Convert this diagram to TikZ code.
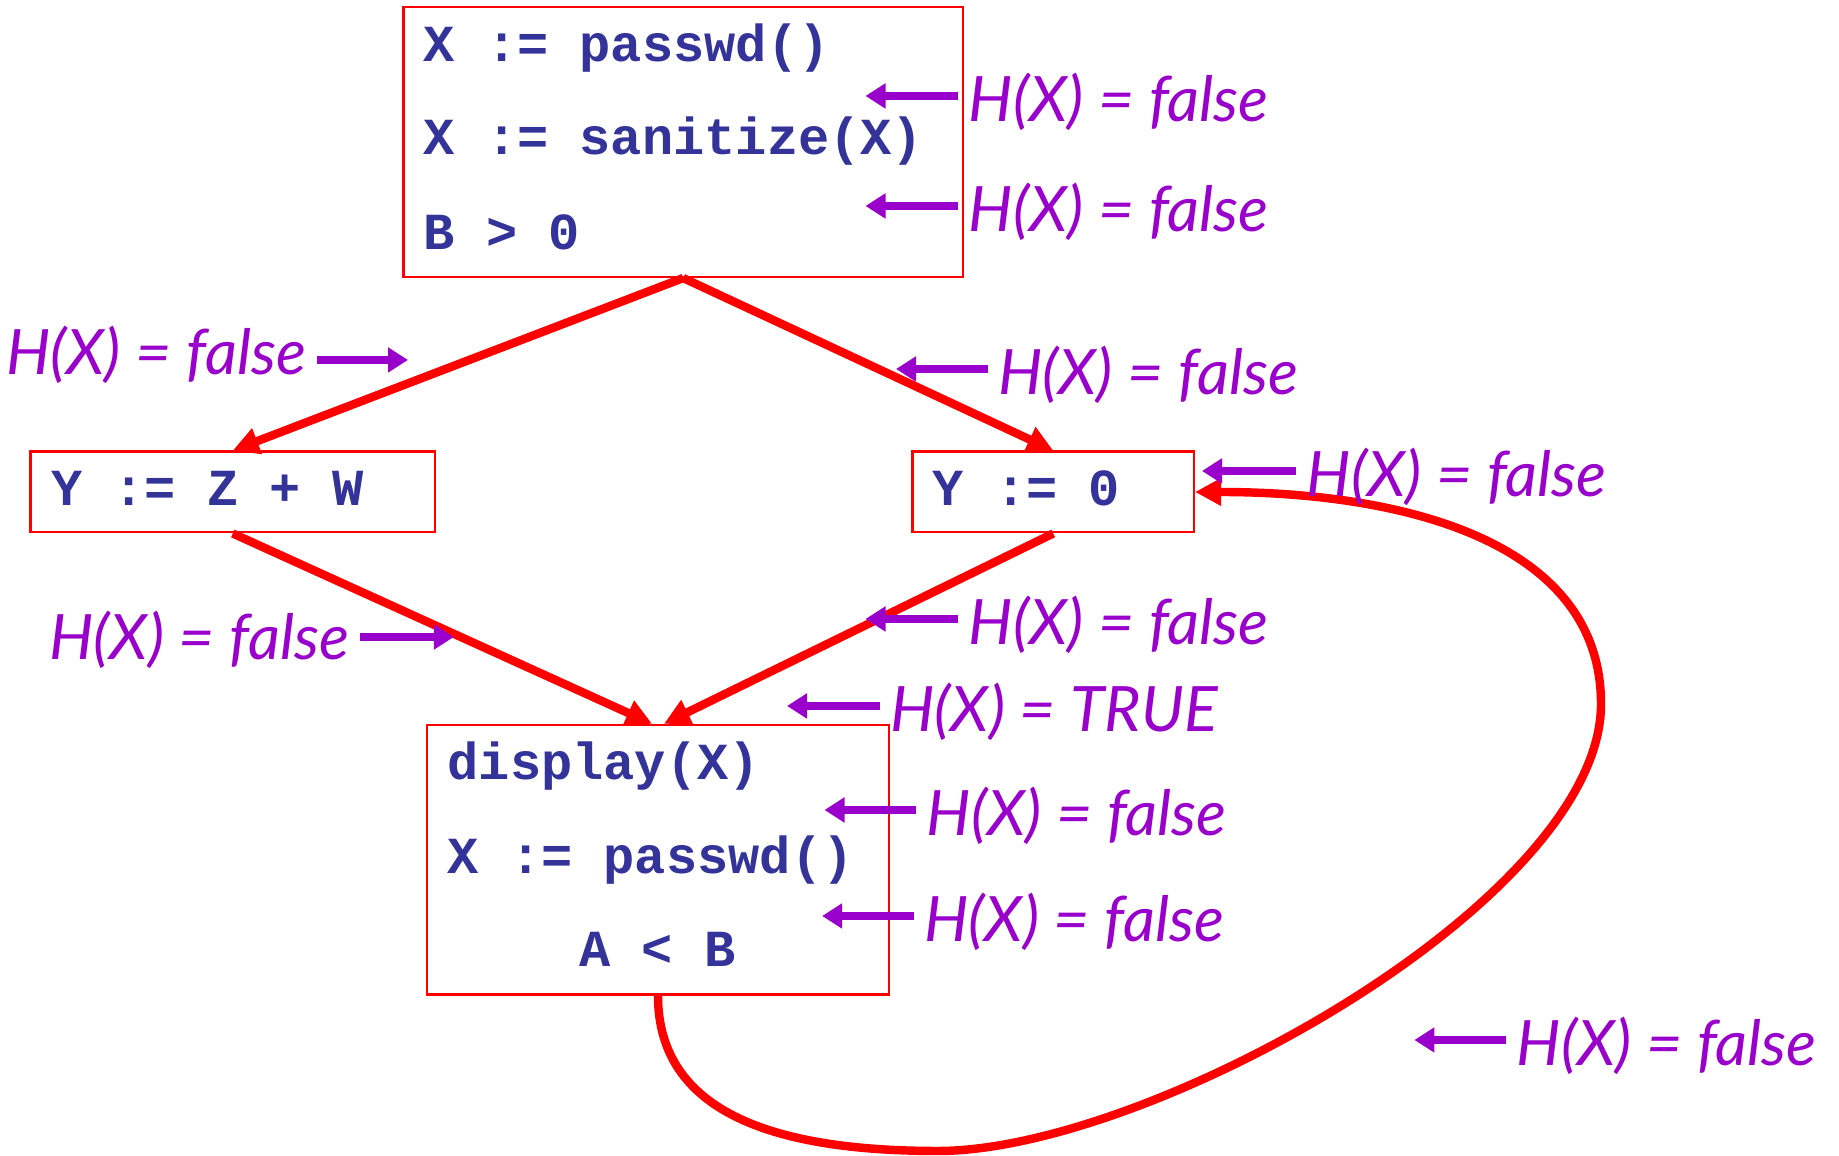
\documentclass[tikz,border=0pt]{standalone}
\usepackage{fontspec}
\setmonofont{Liberation Mono}
\newfontfamily\hfont{Lato}
\usetikzlibrary{arrows.meta}
\definecolor{codeblue}{HTML}{333399}
\definecolor{hpurple}{HTML}{9900CC}
\definecolor{edgered}{HTML}{FF0000}

\begin{document}
\begin{tikzpicture}[x=1cm,y=1cm,
    blk/.style={draw=edgered,line width=0.6pt,inner sep=0pt},
    code/.style={anchor=base west,inner sep=0pt,text=codeblue,
        font=\fontsize{14.8}{16}\selectfont\ttfamily\bfseries},
    hlab/.style={inner sep=0.1cm,text=hpurple,
        font=\fontsize{17.8}{19}\selectfont\hfont\itshape},
    flow/.style={draw=edgered,line width=2.4pt,
        -{Triangle[length=0.26cm,width=0.26cm]}},
    harr/.style={draw=hpurple,line width=2.2pt,
        -{Triangle[length=0.2cm,width=0.24cm]}}]
    \useasboundingbox (0,0) rectangle (18.39,11.56);

    % Bloques basicos: el de arriba, las dos ramas y el bloque final.
    \node[blk,minimum width=5.595cm,minimum height=2.70cm] (top)
        at (6.832,10.14) {};
    \node[code] (t1) at (4.23,10.94) {X := passwd()};
    \node[code] (t2) at (4.23,10.01) {X := sanitize(X)};
    \node[code] (t3) at (4.23,9.06) {B > 0};

    \node[blk,minimum width=4.046cm,minimum height=0.809cm] (left)
        at (2.328,6.64) {};
    \node[code] (l1) at (0.505,6.50) {Y := Z + W};

    \node[blk,minimum width=2.815cm,minimum height=0.809cm] (right)
        at (10.532,6.64) {};
    \node[code] (r1) at (9.32,6.50) {Y := 0};

    \node[blk,minimum width=4.621cm,minimum height=2.697cm] (bot)
        at (6.58,2.963) {};
    \node[code] (b1) at (4.47,3.767) {display(X)};
    \node[code] (b2) at (4.47,2.827) {X := passwd()};
    \node[code,anchor=base] (b3) at (6.574,1.893) {A < B};

    % Aristas del grafo de flujo, con el lazo de vuelta a Y := 0.
    \draw[flow] (top.south) -- (left.north);
    \draw[flow] (top.south) -- (right.north);
    \draw[flow] (left.south) -- ([xshift=-0.06cm]bot.north);
    \draw[flow] (right.south) -- ([xshift=0.06cm]bot.north);
    \draw[flow] (bot.south) .. controls (6.58,0.36) and (7.90,0.05) ..
        (9.38,0.05) .. controls (11.50,0.05) and (16.01,2.56) ..
        (16.01,4.52) .. controls (16.01,6.16) and (14.00,6.64) ..
        (right.east);

    % Anotaciones H(X): cada flecha apunta al punto del programa.
    \node[hlab,anchor=west] (h1) at (9.58,10.54) {H(X) = false};
    \coordinate (h1a) at (8.655,10.60);
    \draw[harr] (h1.west |- h1a) -- (h1a);

    \node[hlab,anchor=west] (h2) at (9.58,9.44) {H(X) = false};
    \coordinate (h2a) at (8.655,9.50);
    \draw[harr] (h2.west |- h2a) -- (h2a);

    \node[hlab,anchor=east] (h3) at (3.167,8.01) {H(X) = false};
    \coordinate (h3a) at (4.08,7.96);
    \draw[harr] (h3.east |- h3a) -- (h3a);

    \node[hlab,anchor=west] (h4) at (9.875,7.81) {H(X) = false};
    \coordinate (h4a) at (8.96,7.87);
    \draw[harr] (h4.west |- h4a) -- (h4a);

    \node[hlab,anchor=west] (h5) at (12.96,6.79) {H(X) = false};
    \coordinate (h5a) at (12.02,6.85);
    \draw[harr] (h5.west |- h5a) -- (h5a);

    \node[hlab,anchor=east] (h6) at (3.60,5.16) {H(X) = false};
    \coordinate (h6a) at (4.539,5.19);
    \draw[harr] (h6.east |- h6a) -- (h6a);

    \node[hlab,anchor=west] (h7) at (9.58,5.31) {H(X) = false};
    \coordinate (h7a) at (8.655,5.37);
    \draw[harr] (h7.west |- h7a) -- (h7a);

    \node[hlab,anchor=west] (h8) at (8.796,4.44) {H(X) = TRUE};
    \coordinate (h8a) at (7.87,4.50);
    \draw[harr] (h8.west |- h8a) -- (h8a);

    \node[hlab,anchor=west] (h9) at (9.16,3.40) {H(X) = false};
    \coordinate (h9a) at (8.245,3.46);
    \draw[harr] (h9.west |- h9a) -- (h9a);

    \node[hlab,anchor=west] (h10) at (9.136,2.34) {H(X) = false};
    \coordinate (h10a) at (8.221,2.40);
    \draw[harr] (h10.west |- h10a) -- (h10a);

    \node[hlab,anchor=west] (h11) at (15.059,1.10) {H(X) = false};
    \coordinate (h11a) at (14.144,1.16);
    \draw[harr] (h11.west |- h11a) -- (h11a);
\end{tikzpicture}
\end{document}
